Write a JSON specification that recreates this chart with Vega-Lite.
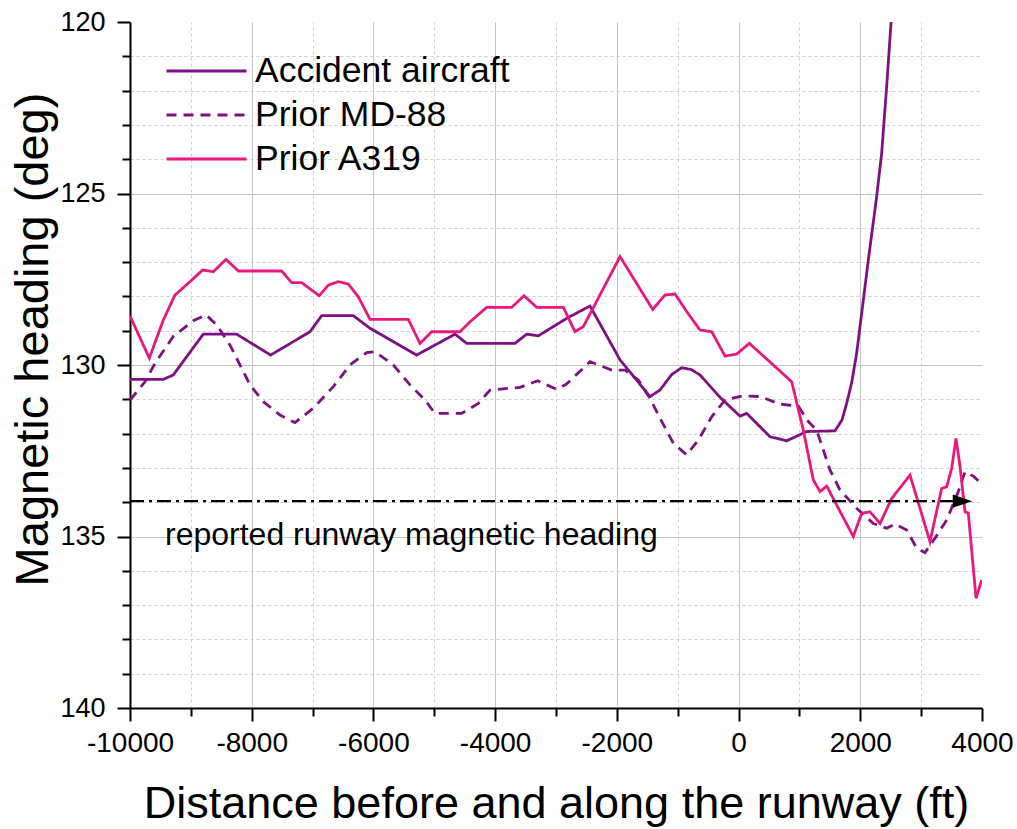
{
  "$schema": "https://vega.github.io/schema/vega-lite/v6.json",
  "width": 852,
  "height": 686,
  "autosize": {"type": "none"},
  "padding": {"left": 130, "top": 22, "right": 35, "bottom": 121},
  "background": "white",
  "config": {
    "view": {"stroke": null},
    "font": "Liberation Sans",
    "axis": {"labelFont": "Liberation Sans", "titleFont": "Liberation Sans", "labelColor": "black", "titleColor": "black", "titleFontWeight": "normal", "tickColor": "black", "domainColor": "black"}
  },
  "datasets": {
    "series": [
      {"s": "Accident aircraft", "x": -10000, "y": 130.42},
      {"s": "Accident aircraft", "x": -9453, "y": 130.42},
      {"s": "Accident aircraft", "x": -9289, "y": 130.29},
      {"s": "Accident aircraft", "x": -8796, "y": 129.10},
      {"s": "Accident aircraft", "x": -8248, "y": 129.10},
      {"s": "Accident aircraft", "x": -7689, "y": 129.71},
      {"s": "Accident aircraft", "x": -7042, "y": 129.03},
      {"s": "Accident aircraft", "x": -6850, "y": 128.56},
      {"s": "Accident aircraft", "x": -6331, "y": 128.56},
      {"s": "Accident aircraft", "x": -6056, "y": 128.93},
      {"s": "Accident aircraft", "x": -5290, "y": 129.71},
      {"s": "Accident aircraft", "x": -4660, "y": 129.10},
      {"s": "Accident aircraft", "x": -4467, "y": 129.37},
      {"s": "Accident aircraft", "x": -3674, "y": 129.37},
      {"s": "Accident aircraft", "x": -3482, "y": 129.10},
      {"s": "Accident aircraft", "x": -3291, "y": 129.15},
      {"s": "Accident aircraft", "x": -2824, "y": 128.64},
      {"s": "Accident aircraft", "x": -2441, "y": 128.28},
      {"s": "Accident aircraft", "x": -1948, "y": 129.85},
      {"s": "Accident aircraft", "x": -1455, "y": 130.92},
      {"s": "Accident aircraft", "x": -1291, "y": 130.73},
      {"s": "Accident aircraft", "x": -1100, "y": 130.28},
      {"s": "Accident aircraft", "x": -935, "y": 130.08},
      {"s": "Accident aircraft", "x": -780, "y": 130.13},
      {"s": "Accident aircraft", "x": -634, "y": 130.29},
      {"s": "Accident aircraft", "x": -300, "y": 130.95},
      {"s": "Accident aircraft", "x": 23, "y": 131.49},
      {"s": "Accident aircraft", "x": 133, "y": 131.41},
      {"s": "Accident aircraft", "x": 516, "y": 132.09},
      {"s": "Accident aircraft", "x": 790, "y": 132.21},
      {"s": "Accident aircraft", "x": 1119, "y": 131.94},
      {"s": "Accident aircraft", "x": 1585, "y": 131.92},
      {"s": "Accident aircraft", "x": 1700, "y": 131.6},
      {"s": "Accident aircraft", "x": 1776, "y": 131.12},
      {"s": "Accident aircraft", "x": 1860, "y": 130.5},
      {"s": "Accident aircraft", "x": 1940, "y": 129.66},
      {"s": "Accident aircraft", "x": 2023, "y": 128.49},
      {"s": "Accident aircraft", "x": 2132, "y": 126.94},
      {"s": "Accident aircraft", "x": 2269, "y": 125.09},
      {"s": "Accident aircraft", "x": 2351, "y": 123.83},
      {"s": "Accident aircraft", "x": 2433, "y": 121.89},
      {"s": "Accident aircraft", "x": 2510, "y": 119.9},
      {"s": "Prior MD-88", "x": -10000, "y": 131.02},
      {"s": "Prior MD-88", "x": -9754, "y": 130.49},
      {"s": "Prior MD-88", "x": -9589, "y": 129.95},
      {"s": "Prior MD-88", "x": -9289, "y": 129.17},
      {"s": "Prior MD-88", "x": -8960, "y": 128.71},
      {"s": "Prior MD-88", "x": -8751, "y": 128.54},
      {"s": "Prior MD-88", "x": -8576, "y": 128.83},
      {"s": "Prior MD-88", "x": -8357, "y": 129.42},
      {"s": "Prior MD-88", "x": -8028, "y": 130.58},
      {"s": "Prior MD-88", "x": -7809, "y": 131.07},
      {"s": "Prior MD-88", "x": -7535, "y": 131.46},
      {"s": "Prior MD-88", "x": -7289, "y": 131.68},
      {"s": "Prior MD-88", "x": -6987, "y": 131.26},
      {"s": "Prior MD-88", "x": -6659, "y": 130.63},
      {"s": "Prior MD-88", "x": -6385, "y": 130.0},
      {"s": "Prior MD-88", "x": -6111, "y": 129.64},
      {"s": "Prior MD-88", "x": -5974, "y": 129.61},
      {"s": "Prior MD-88", "x": -5673, "y": 130.0},
      {"s": "Prior MD-88", "x": -5399, "y": 130.58},
      {"s": "Prior MD-88", "x": -5153, "y": 131.02},
      {"s": "Prior MD-88", "x": -4988, "y": 131.41},
      {"s": "Prior MD-88", "x": -4549, "y": 131.41},
      {"s": "Prior MD-88", "x": -4276, "y": 131.12},
      {"s": "Prior MD-88", "x": -4084, "y": 130.73},
      {"s": "Prior MD-88", "x": -3591, "y": 130.65},
      {"s": "Prior MD-88", "x": -3300, "y": 130.46},
      {"s": "Prior MD-88", "x": -2989, "y": 130.71},
      {"s": "Prior MD-88", "x": -2824, "y": 130.55},
      {"s": "Prior MD-88", "x": -2441, "y": 129.90},
      {"s": "Prior MD-88", "x": -2085, "y": 130.15},
      {"s": "Prior MD-88", "x": -1866, "y": 130.15},
      {"s": "Prior MD-88", "x": -1647, "y": 130.44},
      {"s": "Prior MD-88", "x": -1455, "y": 130.97},
      {"s": "Prior MD-88", "x": -1291, "y": 131.55},
      {"s": "Prior MD-88", "x": -1072, "y": 132.28},
      {"s": "Prior MD-88", "x": -853, "y": 132.62},
      {"s": "Prior MD-88", "x": -662, "y": 132.19},
      {"s": "Prior MD-88", "x": -442, "y": 131.51},
      {"s": "Prior MD-88", "x": -223, "y": 131.02},
      {"s": "Prior MD-88", "x": 78, "y": 130.90},
      {"s": "Prior MD-88", "x": 352, "y": 130.92},
      {"s": "Prior MD-88", "x": 681, "y": 131.14},
      {"s": "Prior MD-88", "x": 982, "y": 131.20},
      {"s": "Prior MD-88", "x": 1146, "y": 131.65},
      {"s": "Prior MD-88", "x": 1283, "y": 131.9},
      {"s": "Prior MD-88", "x": 1502, "y": 133.06},
      {"s": "Prior MD-88", "x": 1666, "y": 133.64},
      {"s": "Prior MD-88", "x": 1940, "y": 134.18},
      {"s": "Prior MD-88", "x": 2214, "y": 134.62},
      {"s": "Prior MD-88", "x": 2433, "y": 134.76},
      {"s": "Prior MD-88", "x": 2570, "y": 134.64},
      {"s": "Prior MD-88", "x": 2762, "y": 134.81},
      {"s": "Prior MD-88", "x": 2926, "y": 135.34},
      {"s": "Prior MD-88", "x": 3063, "y": 135.47},
      {"s": "Prior MD-88", "x": 3227, "y": 135.05},
      {"s": "Prior MD-88", "x": 3420, "y": 134.52},
      {"s": "Prior MD-88", "x": 3611, "y": 133.69},
      {"s": "Prior MD-88", "x": 3721, "y": 133.11},
      {"s": "Prior MD-88", "x": 3857, "y": 133.24},
      {"s": "Prior MD-88", "x": 4000, "y": 133.47},
      {"s": "Prior A319", "x": -10000, "y": 128.57},
      {"s": "Prior A319", "x": -9683, "y": 129.80},
      {"s": "Prior A319", "x": -9453, "y": 128.69},
      {"s": "Prior A319", "x": -9261, "y": 127.96},
      {"s": "Prior A319", "x": -9014, "y": 127.57},
      {"s": "Prior A319", "x": -8806, "y": 127.23},
      {"s": "Prior A319", "x": -8631, "y": 127.28},
      {"s": "Prior A319", "x": -8423, "y": 126.92},
      {"s": "Prior A319", "x": -8220, "y": 127.26},
      {"s": "Prior A319", "x": -7508, "y": 127.26},
      {"s": "Prior A319", "x": -7343, "y": 127.60},
      {"s": "Prior A319", "x": -7179, "y": 127.60},
      {"s": "Prior A319", "x": -6889, "y": 127.98},
      {"s": "Prior A319", "x": -6741, "y": 127.67},
      {"s": "Prior A319", "x": -6577, "y": 127.57},
      {"s": "Prior A319", "x": -6413, "y": 127.64},
      {"s": "Prior A319", "x": -6249, "y": 128.01},
      {"s": "Prior A319", "x": -6056, "y": 128.67},
      {"s": "Prior A319", "x": -5427, "y": 128.67},
      {"s": "Prior A319", "x": -5235, "y": 129.37},
      {"s": "Prior A319", "x": -5043, "y": 129.03},
      {"s": "Prior A319", "x": -4577, "y": 129.03},
      {"s": "Prior A319", "x": -4413, "y": 128.74},
      {"s": "Prior A319", "x": -4139, "y": 128.32},
      {"s": "Prior A319", "x": -3728, "y": 128.32},
      {"s": "Prior A319", "x": -3526, "y": 127.98},
      {"s": "Prior A319", "x": -3317, "y": 128.32},
      {"s": "Prior A319", "x": -2879, "y": 128.32},
      {"s": "Prior A319", "x": -2688, "y": 129.03},
      {"s": "Prior A319", "x": -2551, "y": 128.88},
      {"s": "Prior A319", "x": -1948, "y": 126.84},
      {"s": "Prior A319", "x": -1411, "y": 128.38},
      {"s": "Prior A319", "x": -1209, "y": 127.96},
      {"s": "Prior A319", "x": -1045, "y": 127.93},
      {"s": "Prior A319", "x": -853, "y": 128.44},
      {"s": "Prior A319", "x": -634, "y": 128.98},
      {"s": "Prior A319", "x": -442, "y": 129.03},
      {"s": "Prior A319", "x": -223, "y": 129.74},
      {"s": "Prior A319", "x": -31, "y": 129.68},
      {"s": "Prior A319", "x": 177, "y": 129.37},
      {"s": "Prior A319", "x": 571, "y": 130.0},
      {"s": "Prior A319", "x": 873, "y": 130.49},
      {"s": "Prior A319", "x": 1064, "y": 131.90},
      {"s": "Prior A319", "x": 1228, "y": 133.35},
      {"s": "Prior A319", "x": 1338, "y": 133.69},
      {"s": "Prior A319", "x": 1448, "y": 133.53},
      {"s": "Prior A319", "x": 1885, "y": 135.0},
      {"s": "Prior A319", "x": 2023, "y": 134.32},
      {"s": "Prior A319", "x": 2159, "y": 134.28},
      {"s": "Prior A319", "x": 2324, "y": 134.62},
      {"s": "Prior A319", "x": 2516, "y": 133.89},
      {"s": "Prior A319", "x": 2817, "y": 133.21},
      {"s": "Prior A319", "x": 3145, "y": 135.15},
      {"s": "Prior A319", "x": 3337, "y": 133.60},
      {"s": "Prior A319", "x": 3420, "y": 133.55},
      {"s": "Prior A319", "x": 3502, "y": 133.01},
      {"s": "Prior A319", "x": 3573, "y": 132.14},
      {"s": "Prior A319", "x": 3639, "y": 132.96},
      {"s": "Prior A319", "x": 3721, "y": 134.28},
      {"s": "Prior A319", "x": 3775, "y": 134.32},
      {"s": "Prior A319", "x": 3902, "y": 136.80},
      {"s": "Prior A319", "x": 3995, "y": 136.27}
    ],
    "ref": [{"x": -10000, "x2": 3600, "y": 133.97}],
    "arrow": [{"x": 3680, "y": 133.97}],
    "note": [{"x": -9425, "y": 135.25, "label": "reported runway magnetic heading"}]
  },
  "layer": [
    {
      "data": {"name": "series"},
      "mark": {"type": "line", "clip": true, "strokeWidth": 2.8},
      "encoding": {
        "x": {
          "field": "x", "type": "quantitative",
          "scale": {"domain": [-10000, 4000], "nice": false, "zero": false},
          "axis": {
            "orient": "bottom",
            "values": [-9000, -7000, -5000, -3000, -1000, 1000, 3000],
            "labels": false, "domain": false, "title": null,
            "tickSize": 8, "tickWidth": 2,
            "grid": true, "gridDash": [3, 3], "gridColor": "#cfcfcf", "gridWidth": 1
          }
        },
        "y": {
          "field": "y", "type": "quantitative",
          "scale": {"domain": [120, 140], "reverse": true, "nice": false, "zero": false},
          "axis": {
            "orient": "left",
            "values": [121, 122, 123, 124, 126, 127, 128, 129, 131, 132, 133, 134, 136, 137, 138, 139],
            "labels": false, "domain": false, "title": null,
            "tickSize": 8, "tickWidth": 2,
            "grid": true, "gridDash": [3, 3], "gridColor": "#cfcfcf", "gridWidth": 1
          }
        },
        "color": {
          "field": "s", "type": "nominal",
          "scale": {"domain": ["Accident aircraft", "Prior MD-88", "Prior A319"], "range": ["#7E1083", "#7E1083", "#E8187C"]},
          "legend": {
            "orient": "none", "legendX": 35, "legendY": 28, "title": null,
            "symbolType": "stroke", "symbolSize": 6400, "symbolStrokeWidth": 2.8,
            "clipHeight": 42, "rowPadding": 2, "padding": 0,
            "labelFont": "Liberation Sans", "labelFontSize": 35.5, "labelColor": "black",
            "labelOffset": 7, "labelLimit": 0
          }
        },
        "strokeDash": {
          "field": "s", "type": "nominal",
          "scale": {"domain": ["Accident aircraft", "Prior MD-88", "Prior A319"], "range": [[1, 0], [10, 7], [1, 0]]},
          "legend": {
            "orient": "none", "legendX": 35, "legendY": 28, "title": null,
            "symbolType": "stroke", "symbolSize": 6400, "symbolStrokeWidth": 2.8,
            "clipHeight": 42, "rowPadding": 2, "padding": 0,
            "labelFont": "Liberation Sans", "labelFontSize": 35.5, "labelColor": "black",
            "labelOffset": 7, "labelLimit": 0
          }
        }
      }
    },
    {
      "data": {"name": "ref"},
      "mark": {"type": "rule", "color": "black", "strokeWidth": 2.4, "strokeDash": [14, 5, 3, 5]},
      "encoding": {
        "x": {
          "field": "x", "type": "quantitative",
          "scale": {"domain": [-10000, 4000], "nice": false, "zero": false},
          "axis": {
            "orient": "bottom",
            "values": [-10000, -8000, -6000, -4000, -2000, 0, 2000, 4000],
            "labelExpr": "'' + datum.value",
            "labelFontSize": 28, "labelPadding": 8, "labelFlush": false, "labelOverlap": false,
            "tickSize": 13, "tickWidth": 2,
            "domain": true, "domainWidth": 2,
            "grid": true, "gridWidth": 1,
            "gridColor": {"condition": {"test": "datum.value === 4000 || datum.value === -10000", "value": "transparent"}, "value": "#c4c4c4"},
            "title": "Distance before and along the runway (ft)",
            "titleFontSize": 45, "titlePadding": 24
          }
        },
        "x2": {"field": "x2"},
        "y": {
          "field": "y", "type": "quantitative",
          "scale": {"domain": [120, 140], "reverse": true, "nice": false, "zero": false},
          "axis": {
            "orient": "left",
            "values": [120, 125, 130, 135, 140],
            "labelFontSize": 27, "labelPadding": 12, "labelFlush": false, "labelOverlap": false,
            "tickSize": 13, "tickWidth": 2,
            "domain": true, "domainWidth": 2,
            "grid": true, "gridWidth": 1,
            "gridColor": {"condition": {"test": "datum.value === 120 || datum.value === 140", "value": "transparent"}, "value": "#c4c4c4"},
            "title": "Magnetic heading (deg)",
            "titleFontSize": 47, "titleX": -83, "titleY": 317, "titleAngle": -90,
            "titleBaseline": "alphabetic", "titleAlign": "center"
          }
        }
      }
    },
    {
      "data": {"name": "arrow"},
      "mark": {"type": "point", "filled": true, "color": "black", "opacity": 1, "shape": "M-1,-0.68L1,0L-1,0.68Z", "size": 380},
      "encoding": {
        "x": {"field": "x", "type": "quantitative", "axis": null},
        "y": {"field": "y", "type": "quantitative", "axis": null}
      }
    },
    {
      "data": {"name": "note"},
      "mark": {"type": "text", "align": "left", "baseline": "alphabetic", "font": "Liberation Sans", "fontSize": 32, "color": "black"},
      "encoding": {
        "x": {"field": "x", "type": "quantitative", "axis": null},
        "y": {"field": "y", "type": "quantitative", "axis": null},
        "text": {"field": "label"}
      }
    }
  ],
  "resolve": {"axis": {"x": "independent", "y": "independent"}}
}
